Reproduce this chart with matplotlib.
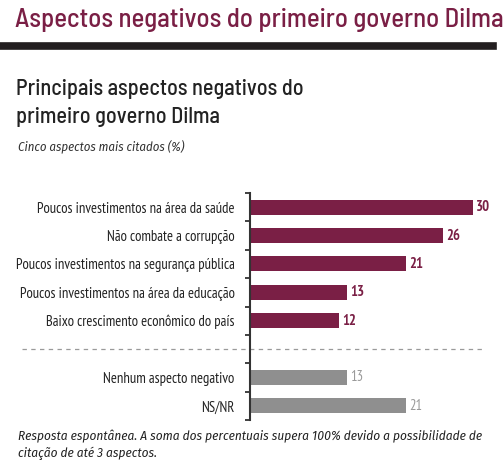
import numpy as np
import matplotlib
matplotlib.use("Agg")
import matplotlib.pyplot as plt
from matplotlib.transforms import blended_transform_factory
from matplotlib.lines import Line2D

# data
categories = ["Poucos investimentos na área da saúde",
              "Não combate a corrupção",
              "Poucos investimentos na segurança pública",
              "Poucos investimentos na área da educação",
              "Baixo crescimento econômico do país"]
values = [30, 26, 21, 13, 12]
other_categories = ["Nenhum aspecto negativo", "NS/NR"]
other_values = [13, 21]

maroon = "#7a1f45"
grey = "#8f8f8f"
label_font = "PT Sans Narrow"
italic_font = "Fira Sans Condensed"
head_font = "Barlow Semi Condensed"

fig = plt.figure(figsize=(5.03, 4.74), dpi=100)
W, H = 503, 474

# header
fig.text(15 / W, 1 - 27 / H, "Aspectos negativos do primeiro governo Dilma",
         family=head_font, fontweight="medium", fontsize=19.3, color=maroon,
         va="baseline", ha="left")
fig.add_artist(Line2D([0, 493 / W], [1 - 45.5 / H] * 2, color="#231f20", lw=5.5))

fig.text(16 / W, 1 - 95 / H, "Principais aspectos negativos do",
         family=head_font, fontweight="medium", fontsize=16, color="#222222", va="baseline")
fig.text(16 / W, 1 - 123 / H, "primeiro governo Dilma",
         family=head_font, fontweight="medium", fontsize=16, color="#222222", va="baseline")
fig.text(18 / W, 1 - 150 / H, "Cinco aspectos mais citados (%)",
         family=italic_font, style="italic", fontsize=9.2, color="#333333", va="baseline")

# chart
ax = fig.add_axes([250 / W, 54 / H, 237.8 / W, 227 / H])
pos_main = np.arange(len(values))
pos_other = np.arange(len(other_values)) + len(values) + 1

ax.barh(pos_main, values, height=0.53, color=maroon)
ax.barh(pos_other, other_values, height=0.53, color=grey)

for p, v in zip(pos_main, values):
    ax.text(v + 0.45, p, str(v), va="center", ha="left", family=label_font,
            fontweight="bold", fontsize=10.5, color=maroon)
for p, v in zip(pos_other, other_values):
    ax.text(v + 0.45, p, str(v), va="center", ha="left", family=label_font,
            fontsize=10.5, color="#9a9a9a")

ax.set_xlim(0, 32)
ax.set_ylim(len(values) + len(other_values) + 0.5, -0.5)
ax.set_yticks(list(pos_main) + list(pos_other))
ax.set_yticklabels(categories + other_categories, family=label_font, fontsize=10.5, color="#222222")
ax.set_yticks(np.arange(-0.5, len(values) + len(other_values) + 1, 1), minor=True)
ax.tick_params(axis="y", which="major", length=0, pad=11)
ax.tick_params(axis="y", which="minor", length=3.5, width=1.3, color="#333333", direction="out")
ax.set_xticks([])
for s in ["top", "right", "bottom"]:
    ax.spines[s].set_visible(False)
ax.spines["left"].set_color("#333333")
ax.spines["left"].set_linewidth(1.5)

# separator between the two groups
tr = blended_transform_factory(fig.transFigure, ax.transData)
ax.add_line(Line2D([22 / W, 485 / W], [len(values), len(values)], transform=tr,
                   color="#9a9a9a", lw=0.9, ls=(0, (3.5, 3.5)), clip_on=False))

# footnote
fig.text(18 / W, 1 - 440 / H,
         "Resposta espontânea. A soma dos percentuais supera 100% devido a possibilidade de",
         family=italic_font, style="italic", fontsize=9.5, color="#222222", va="baseline")
fig.text(18 / W, 1 - 457 / H, "citação de até 3 aspectos.",
         family=italic_font, style="italic", fontsize=9.5, color="#222222", va="baseline")

fig.savefig("out.png", dpi=100)
